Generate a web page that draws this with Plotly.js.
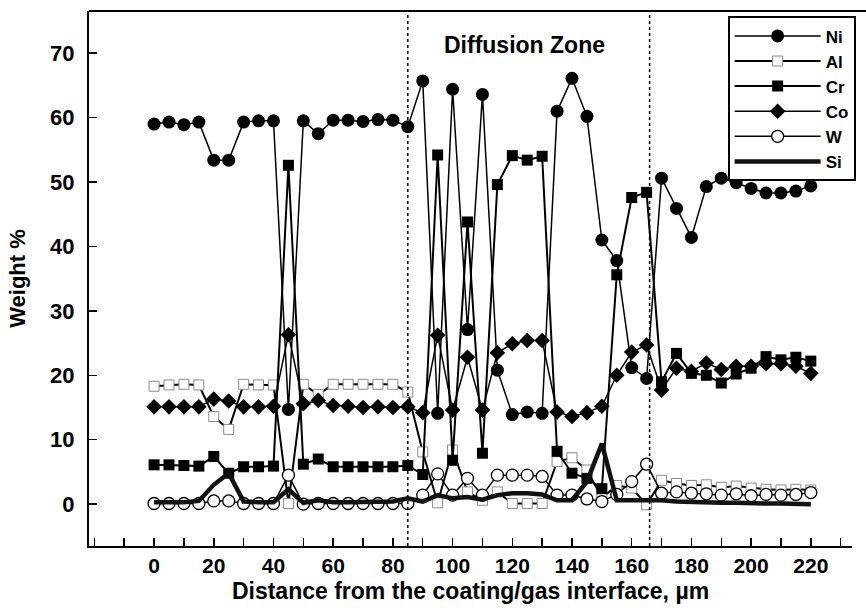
<!DOCTYPE html>
<html>
<head>
<meta charset="utf-8">
<script src="https://cdn.plot.ly/plotly-3.0.1.min.js"></script>
<style>html,body{margin:0;padding:0;background:#fff;}#chart{width:866px;height:610px;}</style>
</head>
<body>
<div id="chart"></div>
<script>
// Distance from the coating/gas interface (µm)
const distance = [0,5,10,15,20,25,30,35,40,45,50,55,60,65,70,75,80,85,90,95,100,105,110,115,120,125,130,135,140,145,150,155,160,165,170,175,180,185,190,195,200,205,210,215,220];

const ni = [59.0,59.3,58.9,59.3,53.4,53.4,59.3,59.5,59.5,14.7,59.5,57.5,59.6,59.6,59.4,59.7,59.6,58.6,65.7,14.1,64.4,27.1,63.6,20.8,13.9,14.3,14.1,61.0,66.1,60.2,41.0,37.8,21.2,19.5,50.6,45.9,41.4,49.3,50.6,49.9,49.0,48.3,48.3,48.6,49.4];
const al = [18.3,18.5,18.6,18.5,13.6,11.6,18.6,18.5,18.5,0.1,18.6,17.0,18.6,18.6,18.6,18.6,18.6,17.4,8.1,0.2,8.4,1.9,0.6,1.9,0.1,0.1,0.1,6.6,7.2,5.3,1.0,2.9,2.5,-0.1,3.7,3.2,2.9,3.0,2.6,2.8,2.5,2.3,2.2,2.3,2.2];
const cr = [6.1,6.1,6.0,5.9,7.4,4.8,5.8,5.8,5.9,52.6,6.2,7.0,5.8,5.8,5.8,5.8,5.8,6.0,4.6,54.2,6.8,43.8,7.9,49.6,54.1,53.4,54.0,8.2,4.8,4.0,2.4,35.6,47.6,48.4,19.0,23.4,20.3,20.0,18.8,20.2,21.1,22.9,22.4,22.8,22.2];
const co = [15.1,15.1,15.1,15.1,16.3,16.0,15.1,15.1,15.2,26.3,15.6,16.1,15.3,15.2,15.0,15.1,15.0,15.1,14.2,26.2,14.6,22.8,14.6,23.5,24.9,25.4,25.4,14.3,13.6,14.2,15.2,20.0,23.6,24.7,17.7,21.1,20.6,21.9,20.9,21.4,21.4,21.8,21.8,21.4,20.3];
const w  = [0.1,0.1,0.1,0.1,0.5,0.5,0.1,0.1,0.1,4.5,0.0,0.1,0.1,0.1,0.1,0.1,0.1,0.1,1.4,4.7,1.4,4.0,1.4,4.5,4.5,4.5,4.3,1.4,1.4,0.8,0.4,1.5,3.5,6.2,1.7,1.9,1.7,1.6,1.4,1.6,1.3,1.5,1.4,1.5,1.8];
const si = [0.3,0.3,0.3,0.5,3.0,4.8,0.4,0.3,0.3,2.3,0.2,0.6,0.3,0.3,0.3,0.3,0.4,0.9,0.4,1.4,0.9,1.1,0.7,1.4,1.7,1.7,1.5,0.6,0.6,3.5,9.4,0.6,0.6,0.7,0.6,0.4,0.3,0.3,0.2,0.2,0.1,0.1,0.1,0.0,0.0];

const xTicks = [0,20,40,60,80,100,120,140,160,180,200,220];
const yTicks = [0,10,20,30,40,50,60,70];
const zoneBounds = [85,166];
const zoneLabel = 'Diffusion Zone';

const traces = [
  {name:'Ni', x:distance, y:ni, mode:'lines+markers', line:{color:'#000',width:1.5}, marker:{symbol:'circle',size:13,color:'#000'}},
  {name:'Al', x:distance, y:al, mode:'lines+markers', line:{color:'#000',width:2}, marker:{symbol:'square',size:10,color:'#fff',line:{color:'#8a8a8a',width:1}}},
  {name:'Cr', x:distance, y:cr, mode:'lines+markers', line:{color:'#000',width:2}, marker:{symbol:'square',size:11,color:'#000'}},
  {name:'Co', x:distance, y:co, mode:'lines+markers', line:{color:'#000',width:1.5}, marker:{symbol:'diamond',size:12,color:'#000'}},
  {name:'W',  x:distance, y:w,  mode:'lines+markers', line:{color:'#000',width:1.5}, marker:{symbol:'circle',size:12,color:'#fff',line:{color:'#000',width:1.3}}},
  {name:'Si', x:distance, y:si, mode:'lines', line:{color:'#111',width:4.5}}
];

const F = 'Liberation Sans, Arial, sans-serif';
const layout = {
  width:866, height:610,
  margin:{l:89, r:14, t:11, b:64, autoexpand:false},
  paper_bgcolor:'#fff', plot_bgcolor:'#fff',
  font:{family:F, color:'#000'},
  showlegend:true,
  legend:{x:0.837, y:0.99, xanchor:'left', yanchor:'top', bordercolor:'#000', borderwidth:2, bgcolor:'#fff',
          font:{family:F, size:17, weight:'bold', color:'#000'}, tracegroupgap:0, itemwidth:86},
  xaxis:{range:[-21.8,233.8], tickvals:xTicks, ticks:'inside', ticklen:8, tickwidth:1.5, tickcolor:'#000',
         minor:{dtick:10, tick0:0, ticks:'inside', ticklen:8, tickwidth:1.5, tickcolor:'#000'},
         showline:true, linewidth:2, linecolor:'#000', showgrid:false, zeroline:false,
         tickfont:{family:F, size:21, weight:'bold'},
         title:{text:'Distance from the coating/gas interface, µm', font:{family:F, size:23, weight:'bold'}, standoff:7}},
  yaxis:{range:[-6.5,76.55], tickvals:yTicks, ticks:'inside', ticklen:8, tickwidth:1.5, tickcolor:'#000',
         showline:true, linewidth:2, linecolor:'#000', showgrid:false, zeroline:false,
         tickfont:{family:F, size:22, weight:'bold'}, ticklabelstandoff:8,
         title:{text:'Weight %', font:{family:F, size:22, weight:'bold'}, standoff:18}},
  shapes:[
    {type:'line', xref:'paper', yref:'paper', x0:0, x1:1.02, y0:1, y1:1, line:{color:'#000', width:2}},
    ...zoneBounds.map(b => ({type:'line', xref:'x', yref:'paper', x0:b, x1:b, y0:0, y1:1, line:{color:'#000', width:1.5, dash:'dot'}}))
  ],
  annotations:[{x:124, y:71.3, xref:'x', yref:'y', text:zoneLabel, showarrow:false, font:{family:F, size:23, weight:'bold'}}]
};

Plotly.newPlot('chart', traces, layout, {staticPlot:true, displayModeBar:false});
</script>
</body>
</html>
